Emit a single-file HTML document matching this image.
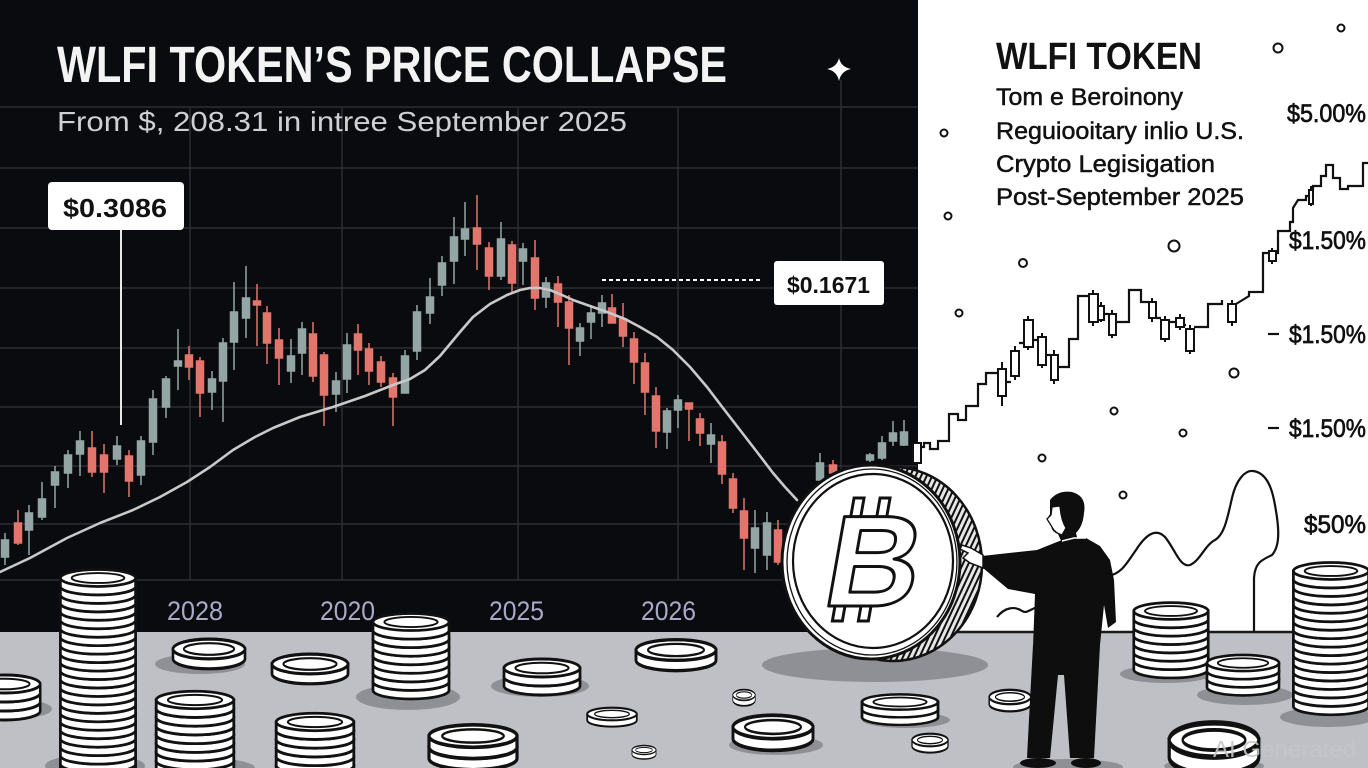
<!DOCTYPE html>
<html><head><meta charset="utf-8"><style>html,body{margin:0;padding:0;background:#fff;overflow:hidden}svg{display:block}</style></head>
<body>
<svg width="1368" height="768" viewBox="0 0 1368 768" xmlns="http://www.w3.org/2000/svg" font-family="'Liberation Sans', sans-serif">
<defs>
<g id="c"><path d="M-40,0V9A40 9 0 0 0 40,9V0Z" fill="#fff" stroke="#111" stroke-width="2.9"/><ellipse rx="40" ry="9" fill="#fff" stroke="#111" stroke-width="2.9"/><ellipse rx="28" ry="5.3" fill="none" stroke="#111" stroke-width="2"/></g>
<pattern id="h" width="5" height="5" patternUnits="userSpaceOnUse" patternTransform="rotate(25)"><rect width="5" height="5" fill="#e6e6e6"/><line x1="1" y1="0" x2="1" y2="5" stroke="#111" stroke-width="2"/></pattern>
</defs>
<rect width="1368" height="768" fill="#fff"/>
<rect x="0" y="0" width="918" height="632" fill="#0a0b0f"/>
<g stroke="#2c2e33" stroke-width="1.5">
<line x1="0" y1="107" x2="918" y2="107"/><line x1="0" y1="168" x2="918" y2="168"/><line x1="0" y1="228" x2="918" y2="228"/><line x1="0" y1="288" x2="918" y2="288"/><line x1="0" y1="348" x2="918" y2="348"/><line x1="0" y1="407" x2="918" y2="407"/><line x1="0" y1="466" x2="918" y2="466"/><line x1="0" y1="524" x2="918" y2="524"/><line x1="0" y1="580" x2="918" y2="580"/>
<line x1="190" y1="107" x2="190" y2="580"/><line x1="342" y1="107" x2="342" y2="580"/><line x1="518" y1="107" x2="518" y2="580"/><line x1="678" y1="107" x2="678" y2="580"/><line x1="841" y1="80" x2="841" y2="580"/>
</g>
<path fill="#93a6a5" stroke="#93a6a5" stroke-width="1.5" d="M5,533V565M1.5,540h7v17h-7zM29,505V555M25.5,513h7v17h-7zM42,482V520M38.5,499h7v18h-7zM55,466V508M51.5,472h7v13h-7zM68,450V488M64.5,455h7v18h-7zM80,431V476M76.5,441h7v13h-7zM117,436V465M113.5,446h7v13h-7zM141,436V485M137.5,441h7v34h-7zM153,390V455M149.5,399h7v43h-7zM166,376V418M162.5,379h7v28h-7zM178,329V390M174.5,361h7v5h-7zM212,371V410M208.5,379h7v13h-7zM223,338V422M219.5,343h7v38h-7zM234,282V370M230.5,312h7v30h-7zM246,266V338M242.5,298h7v20h-7zM291,339V383M287.5,356h7v15h-7zM302,322V375M298.5,329h7v24h-7zM336,372V412M332.5,381h7v13h-7zM347,333V393M343.5,345h7v34h-7zM405,350V393M401.5,356h7v37h-7zM417,305V360M413.5,312h7v39h-7zM430,278V324M426.5,297h7v16h-7zM442,256V296M438.5,263h7v22h-7zM454,217V284M450.5,237h7v24h-7zM465,202V256M461.5,229h7v10h-7zM501,222V280M497.5,239h7v37h-7zM523,243V285M519.5,249h7v12h-7zM546,277V308M542.5,283h7v14h-7zM580,323V356M576.5,328h7v13h-7zM591,305V339M587.5,313h7v9h-7zM602,295V327M598.5,303h7v10h-7zM667,408V449M663.5,411h7v21h-7zM678,395V428M674.5,400h7v10h-7zM711,423V463M707.5,435h7v9h-7zM755,510V573M751.5,528h7v20h-7zM767,512V570M763.5,523h7v32h-7zM820,453V480M816.5,463h7v17h-7zM870,453V462M866.5,455h7v5h-7zM882,436V460M878.5,443h7v15h-7zM893,421V446M889.5,433h7v8h-7zM904,420V446M900.5,432h7v13h-7z"/>
<path fill="#e2766c" stroke="#e2766c" stroke-width="1.5" d="M18,510V545M14.5,523h7v20h-7zM92,431V477M88.5,448h7v24h-7zM104,444V493M100.5,455h7v17h-7zM129,450V497M125.5,456h7v25h-7zM189,346V380M185.5,355h7v12h-7zM200,357V417M196.5,361h7v32h-7zM257,284V346M253.5,301h7v4h-7zM267,306V364M263.5,313h7v30h-7zM279,328V385M275.5,340h7v18h-7zM313,322V382M309.5,334h7v42h-7zM324,352V426M320.5,355h7v40h-7zM358,324V375M354.5,334h7v16h-7zM369,343V385M365.5,349h7v22h-7zM381,356V387M377.5,362h7v20h-7zM393,373V426M389.5,378h7v19h-7zM477,195V270M473.5,228h7v16h-7zM489,242V290M485.5,248h7v28h-7zM512,241V292M508.5,245h7v38h-7zM535,240V310M531.5,258h7v40h-7zM558,276V327M554.5,284h7v18h-7zM569,295V365M565.5,302h7v26h-7zM612,294V323M608.5,308h7v15h-7zM623,303V347M619.5,319h7v17h-7zM634,332V384M630.5,339h7v23h-7zM645,353V415M641.5,363h7v29h-7zM656,387V448M652.5,396h7v35h-7zM689,403V441M685.5,403h7v6h-7zM700,413V446M696.5,419h7v14h-7zM722,435V484M718.5,442h7v32h-7zM733,473V513M729.5,479h7v29h-7zM744,498V570M740.5,511h7v27h-7zM778,520V565M774.5,530h7v32h-7zM833,460V476M829.5,465h7v8h-7z"/>
<polyline fill="none" stroke="#c9c9c9" stroke-width="2.6" stroke-linejoin="round" stroke-linecap="round" points="0,572 30,558 67,538 100,523 133,510 160,497 187,482 210,467 233,450 255,437 273,428 300,417 333,407 365,396 393,385 410,379 425,370 440,356 460,332 473,317 490,304 507,295 520,290 530,288 540,288 550,290 562,295 573,300 590,306 607,312 625,319 640,327 657,337 673,350 690,367 707,387 723,408 740,430 757,452 773,473 785,487 797,500"/>
<text x="57" y="82" font-size="51" font-weight="bold" fill="#f3f3f3" textLength="670" lengthAdjust="spacingAndGlyphs">WLFI TOKEN’S PRICE COLLAPSE</text>
<text x="57" y="131" font-size="28" fill="#cfd0d6" textLength="570" lengthAdjust="spacingAndGlyphs">From $, 208.31 in intree September 2025</text>
<path d="M839,58Q841,67 851,69Q841,71 839,81Q837,71 827,69Q837,67 839,58Z" fill="#fff"/>
<line x1="121" y1="230" x2="121" y2="425" stroke="#e8e8e8" stroke-width="2"/>
<rect x="48" y="182" width="136" height="48" rx="4" fill="#fff"/>
<text x="63" y="217" font-size="26" font-weight="bold" fill="#111" textLength="104" lengthAdjust="spacingAndGlyphs">$0.3086</text>
<line x1="602" y1="280" x2="762" y2="280" stroke="#fff" stroke-width="2" stroke-dasharray="4 3"/>
<rect x="774" y="261" width="110" height="44" rx="3" fill="#fff"/>
<text x="787" y="293" font-size="23" font-weight="bold" fill="#111" textLength="83" lengthAdjust="spacingAndGlyphs">$0.1671</text>
<g font-size="27" fill="#a9aac8">
<text x="167" y="620" textLength="56" lengthAdjust="spacingAndGlyphs">2028</text>
<text x="320" y="620" textLength="55" lengthAdjust="spacingAndGlyphs">2020</text>
<text x="489" y="620" textLength="55" lengthAdjust="spacingAndGlyphs">2025</text>
<text x="641" y="620" textLength="55" lengthAdjust="spacingAndGlyphs">2026</text>
</g>
<text x="996" y="69" font-size="38" font-weight="bold" fill="#111" textLength="206" lengthAdjust="spacingAndGlyphs">WLFI TOKEN</text>
<g font-size="24" fill="#111" stroke="#111" stroke-width="0.5">
<text x="996" y="105" textLength="187" lengthAdjust="spacingAndGlyphs">Tom e Beroinony</text>
<text x="996" y="139" textLength="248" lengthAdjust="spacingAndGlyphs">Reguiooitary inlio U.S.</text>
<text x="996" y="172" textLength="219" lengthAdjust="spacingAndGlyphs">Crypto Legisigation</text>
<text x="996" y="205" textLength="248" lengthAdjust="spacingAndGlyphs">Post-September 2025</text>
</g>
<g font-size="25" fill="#111" stroke="#111" stroke-width="0.7">
<text x="1287" y="122" textLength="79" lengthAdjust="spacingAndGlyphs">$5.00%</text>
<text x="1289" y="249" textLength="77" lengthAdjust="spacingAndGlyphs">$1.50%</text>
<text x="1289" y="343" textLength="77" lengthAdjust="spacingAndGlyphs">$1.50%</text>
<text x="1289" y="437" textLength="77" lengthAdjust="spacingAndGlyphs">$1.50%</text>
<text x="1304" y="533" textLength="62" lengthAdjust="spacingAndGlyphs">$50%</text>
</g>
<g stroke="#111" stroke-width="2.2"><line x1="1268" y1="334" x2="1279" y2="334"/><line x1="1268" y1="428" x2="1279" y2="428"/></g>
<g fill="#fff" stroke="#111" stroke-width="2">
<circle cx="1341" cy="28" r="3.5"/><circle cx="1278" cy="48" r="4.5"/><circle cx="944" cy="133" r="3.5"/><circle cx="948" cy="216" r="3.5"/><circle cx="1174" cy="246" r="5.5"/><circle cx="1023" cy="263" r="4"/><circle cx="959" cy="313" r="3.5"/><circle cx="1234" cy="373" r="4.5"/><circle cx="1114" cy="411" r="3.5"/><circle cx="1183" cy="433" r="3.5"/><circle cx="1042" cy="458" r="3.5"/><circle cx="1123" cy="495" r="3.5"/>
</g>
<path fill="none" stroke="#111" stroke-width="2.2" d="M912,447H924V443H930V449H938V441H949V414H958V420H966V406H978V384H986V373H998M1006,382H1011M1019,343H1024M1033,340H1038M1046,355H1051M1058,367H1069V339H1078V296H1089M1104,314H1109M1116,322H1129V290H1141V302H1149M1156,318H1161M1169,322H1176M1184,325H1186M1194,327H1208V304H1222V300M1236,304L1249,296V292H1263V253H1269M1276,253H1278V231H1290V222H1293V208L1298,200H1306V196H1309M1313,190V186H1321V176H1326V165H1333V178H1340V189H1348V186H1363V163H1368"/>
<g fill="#fff" stroke="#111" stroke-width="2">
<path d="M1002,362V406M1015,346V380M1028,316V350M1042,333V368M1054,350V384M1093,290V326M1101,302V322M1112,310V338M1152,298V322M1165,316V342M1180,314V330M1190,325V354M1232,300V326M1272,248V264M1311,186V206M917,440V466"/>
<rect x="998" y="369" width="8" height="27"/><rect x="1011" y="351" width="8" height="25"/><rect x="1024" y="320" width="9" height="27"/><rect x="1038" y="337" width="8" height="28"/><rect x="1051" y="355" width="7" height="25"/><rect x="1089" y="294" width="9" height="28"/><rect x="1098" y="306" width="6" height="14"/><rect x="1109" y="314" width="7" height="21"/><rect x="1149" y="302" width="7" height="16"/><rect x="1161" y="320" width="8" height="19"/><rect x="1176" y="318" width="8" height="9"/><rect x="1186" y="329" width="8" height="22"/><rect x="1228" y="304" width="8" height="18"/><rect x="1269" y="251" width="7" height="10"/><rect x="1309" y="190" width="4" height="14"/><rect x="913" y="443" width="8" height="20"/>
</g>
<path fill="none" stroke="#111" stroke-width="2.2" d="M997,617C1005,607 1015,606 1022,611C1027,614 1030,609 1040,606M1108,576C1122,574 1128,561 1136,550C1145,536 1155,527 1165,537C1175,549 1180,568 1190,565C1200,561 1205,545 1215,540C1225,534 1228,515 1232,498C1236,480 1245,470 1253,471C1262,472 1270,480 1274,500C1279,525 1281,545 1272,555C1262,560 1255,562 1254,578L1254,632"/>
<rect x="0" y="632" width="1368" height="136" fill="#bfc0c5"/>
<line x1="916" y1="632" x2="1368" y2="632" stroke="#1a1a1a" stroke-width="2.5"/>
<g fill="#8f9095">
<ellipse cx="95" cy="766" rx="50" ry="12"/><ellipse cx="200" cy="664" rx="45" ry="10"/><ellipse cx="408" cy="697" rx="52" ry="13"/><ellipse cx="540" cy="686" rx="49" ry="11"/><ellipse cx="20" cy="709" rx="32" ry="9"/><ellipse cx="205" cy="768" rx="50" ry="10"/><ellipse cx="875" cy="665" rx="113" ry="17"/><ellipse cx="1166" cy="674" rx="46" ry="9"/><ellipse cx="1245" cy="695" rx="48" ry="10"/><ellipse cx="1328" cy="717" rx="48" ry="10"/><ellipse cx="906" cy="720" rx="44" ry="8"/><ellipse cx="776" cy="745" rx="47" ry="10"/><ellipse cx="1068" cy="767" rx="55" ry="8"/><ellipse cx="1214" cy="766" rx="50" ry="8"/>
</g>
<g transform="translate(5,684) scale(0.88,1)"><use href="#c" y="18"/><use href="#c" y="9"/><use href="#c" y="0"/></g>
<g transform="translate(98,578) scale(0.94)"><use href="#c" y="198"/><use href="#c" y="189"/><use href="#c" y="180"/><use href="#c" y="171"/><use href="#c" y="162"/><use href="#c" y="153"/><use href="#c" y="144"/><use href="#c" y="135"/><use href="#c" y="126"/><use href="#c" y="117"/><use href="#c" y="108"/><use href="#c" y="99"/><use href="#c" y="90"/><use href="#c" y="81"/><use href="#c" y="72"/><use href="#c" y="63"/><use href="#c" y="54"/><use href="#c" y="45"/><use href="#c" y="36"/><use href="#c" y="27"/><use href="#c" y="18"/><use href="#c" y="9"/><use href="#c" y="0"/></g>
<g transform="translate(209,649) scale(0.9,1.1)"><use href="#c" y="0"/></g>
<g transform="translate(310,664) scale(0.95,1.1)"><use href="#c" y="0"/></g>
<g transform="translate(411,622) scale(0.95)"><use href="#c" y="63"/><use href="#c" y="54"/><use href="#c" y="45"/><use href="#c" y="36"/><use href="#c" y="27"/><use href="#c" y="18"/><use href="#c" y="9"/><use href="#c" y="0"/></g>
<g transform="translate(542,668) scale(0.95,1)"><use href="#c" y="9"/><use href="#c" y="0"/></g>
<g transform="translate(676,650) scale(1,1.15)"><use href="#c" y="0"/></g>
<g transform="translate(612,714) scale(0.62,0.7)"><use href="#c" y="0"/></g>
<g transform="translate(644,750) scale(0.3,0.5)"><use href="#c" y="0"/></g>
<g transform="translate(195,700) scale(0.97)"><use href="#c" y="63"/><use href="#c" y="54"/><use href="#c" y="45"/><use href="#c" y="36"/><use href="#c" y="27"/><use href="#c" y="18"/><use href="#c" y="9"/><use href="#c" y="0"/></g>
<g transform="translate(315,722) scale(0.97)"><use href="#c" y="45"/><use href="#c" y="36"/><use href="#c" y="27"/><use href="#c" y="18"/><use href="#c" y="9"/><use href="#c" y="0"/></g>
<g transform="translate(473,736) scale(1.1,1.25)"><use href="#c" y="9"/><use href="#c" y="0"/></g>
<g transform="translate(744,695) scale(0.28,0.6)"><use href="#c" y="0"/></g>
<g transform="translate(1171,611) scale(0.93)"><use href="#c" y="54"/><use href="#c" y="45"/><use href="#c" y="36"/><use href="#c" y="27"/><use href="#c" y="18"/><use href="#c" y="9"/><use href="#c" y="0"/></g>
<g transform="translate(1243,663) scale(0.9)"><use href="#c" y="18"/><use href="#c" y="9"/><use href="#c" y="0"/></g>
<g transform="translate(1331,571) scale(0.94)"><use href="#c" y="135"/><use href="#c" y="126"/><use href="#c" y="117"/><use href="#c" y="108"/><use href="#c" y="99"/><use href="#c" y="90"/><use href="#c" y="81"/><use href="#c" y="72"/><use href="#c" y="63"/><use href="#c" y="54"/><use href="#c" y="45"/><use href="#c" y="36"/><use href="#c" y="27"/><use href="#c" y="18"/><use href="#c" y="9"/><use href="#c" y="0"/></g>
<g transform="translate(900,702) scale(0.95,0.85)"><use href="#c" y="9"/><use href="#c" y="0"/></g>
<g transform="translate(1010,697) scale(0.52,0.8)"><use href="#c" y="0"/></g>
<g transform="translate(773,727) scale(1,1.3)"><use href="#c" y="0"/></g>
<g transform="translate(930,740) scale(0.45,0.7)"><use href="#c" y="0"/></g>
<g transform="translate(1214,740) scale(1.12,1.9)"><use href="#c" y="0"/></g>
<ellipse cx="893" cy="564" rx="89" ry="97" fill="url(#h)" stroke="#111" stroke-width="2.5"/>
<ellipse cx="871" cy="562" rx="89" ry="97" fill="#fff" stroke="#111" stroke-width="3"/>
<ellipse cx="872" cy="562" rx="85" ry="93" fill="none" stroke="#111" stroke-width="1.3"/>
<ellipse cx="873" cy="561" rx="80" ry="87" fill="none" stroke="#111" stroke-width="2.2"/>
<g transform="translate(820,606) skewX(-10)">
<g fill="#fff" stroke="#111" stroke-width="3"><rect x="15" y="-108" width="10" height="22"/><rect x="41" y="-108" width="10" height="22"/><rect x="15" y="-6" width="10" height="21"/><rect x="41" y="-6" width="10" height="21"/></g>
<text x="0" y="0" font-size="130" font-weight="bold" fill="#fff" stroke="#111" stroke-width="3" stroke-linejoin="round">B</text>
</g>
<path fill="#0e0e0e" d="M1037,550L1062,540L1086,538L1100,546L1110,560L1114,580L1116,622L1108,628L1104,605L1100,645L1033,647L1035,594L1008,589L983,568L982,556Z"/>
<path fill="#0e0e0e" d="M1033,645L1100,645L1094,758L1070,758L1064,675L1058,675L1050,758L1027,758L1030,700Z"/>
<ellipse cx="1038" cy="763" rx="18" ry="5" fill="#0e0e0e"/><ellipse cx="1086" cy="763" rx="15" ry="5" fill="#0e0e0e"/>
<path fill="#0e0e0e" d="M1050,500Q1058,490 1072,492Q1087,496 1084,513Q1083,526 1076,533L1078,541L1062,543L1058,534Q1052,532 1051,526L1047,519L1050,514Z"/>
<path fill="#fff" stroke="#111" stroke-width="1.3" d="M1052,507L1060,506Q1061,520 1066,528L1062,535Q1055,533 1052,527L1047,519L1051,515Z"/>
<path fill="none" stroke="#fff" stroke-width="1.5" d="M1062,541L1074,538L1086,538"/>
<path fill="#fff" stroke="#111" stroke-width="1.5" d="M983,555L971,548L962,545L960,549L968,553L963,558L970,563L983,568Z"/>
<text x="1213" y="757" font-size="23" fill="#c4c5c9" fill-opacity="0.9" textLength="143" lengthAdjust="spacingAndGlyphs">AI Generated</text>
</svg>
</body></html>
